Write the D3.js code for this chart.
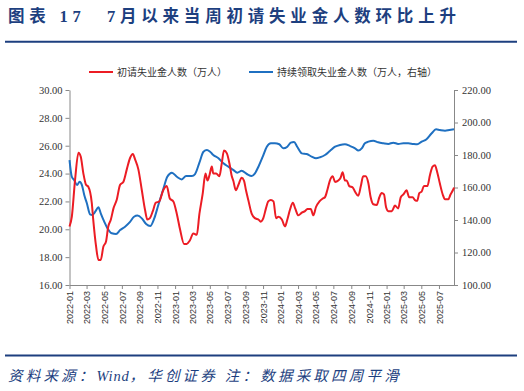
<!DOCTYPE html>
<html><head><meta charset="utf-8">
<script src="https://cdn.jsdelivr.net/npm/d3@7"></script>
<style>
body{margin:0;background:#fff;}
svg{display:block;}
</style></head>
<body><svg id="c" width="524" height="391"></svg>
<script>
const titleText = "图表 17　7月以来当周初请失业金人数环比上升";
const footerParts = ["资料来源：", "Wind", "，华创证券 注：数据采取四周平滑"];
const seriesNames = ["初请失业金人数（万人）", "持续领取失业金人数（万人，右轴）"];
const leftTicks = [16,18,20,22,24,26,28,30];
const rightTicks = [100,120,140,160,180,200,220];

const initialDates = ["2022-01-01","2022-01-09","2022-01-20","2022-02-01","2022-02-09","2022-02-18","2022-02-27","2022-03-07","2022-03-19","2022-03-24","2022-04-03","2022-04-11","2022-04-19","2022-04-28","2022-05-07","2022-05-15","2022-05-24","2022-06-02","2022-06-13","2022-06-25","2022-07-06","2022-07-18","2022-07-29","2022-08-08","2022-08-16","2022-08-27","2022-09-08","2022-09-19","2022-09-27","2022-10-06","2022-10-16","2022-10-26","2022-11-07","2022-11-21","2022-12-03","2022-12-14","2022-12-26","2023-01-07","2023-01-18","2023-02-01","2023-02-10","2023-02-21","2023-03-05","2023-03-17","2023-03-26","2023-04-06","2023-04-16","2023-04-23","2023-04-30","2023-05-08","2023-05-13","2023-05-23","2023-06-03","2023-06-11","2023-06-19","2023-06-29","2023-07-08","2023-07-16","2023-07-21","2023-07-30","2023-08-08","2023-08-19","2023-08-27","2023-09-03","2023-09-11","2023-09-23","2023-10-04","2023-10-16","2023-10-24","2023-11-02","2023-11-11","2023-11-19","2023-11-28","2023-12-07","2023-12-16","2023-12-24","2024-01-05","2024-01-16","2024-01-24","2024-02-02","2024-02-12","2024-02-20","2024-03-02","2024-03-14","2024-03-25","2024-04-02","2024-04-14","2024-04-23","2024-05-02","2024-05-14","2024-05-25","2024-06-02","2024-06-10","2024-06-19","2024-06-29","2024-07-07","2024-07-18","2024-07-26","2024-08-02","2024-08-10","2024-08-16","2024-08-25","2024-09-06","2024-09-14","2024-09-25","2024-10-04","2024-10-12","2024-10-21","2024-10-30","2024-11-07","2024-11-16","2024-11-28","2024-12-07","2024-12-15","2024-12-23","2024-12-30","2025-01-07","2025-01-19","2025-01-30","2025-02-10","2025-02-19","2025-02-28","2025-03-11","2025-03-20","2025-04-01","2025-04-09","2025-04-17","2025-04-24","2025-05-02","2025-05-10","2025-05-22","2025-05-31","2025-06-09","2025-06-17","2025-06-25","2025-07-04","2025-07-14","2025-07-22","2025-08-02","2025-08-10","2025-08-18","2025-08-22"];
const initialClaims = [20.2,20.9,23.5,25.5,25.2,24.0,23.2,23.05,21.9,20.7,18.75,17.8,17.8,18.75,19.1,20.2,20.7,21.5,22.1,23.2,23.4,24.3,25.1,25.4,25.0,24.3,22.8,21.4,20.7,20.8,21.3,21.9,22.0,22.8,23.1,22.2,22.0,21.1,20.0,18.95,18.95,19.2,19.7,19.6,21.1,22.5,24.0,23.5,23.9,24.5,24.0,24.0,23.8,24.7,25.65,25.45,24.7,23.8,23.5,22.8,23.2,23.7,23.5,22.8,22.1,21.1,20.8,20.7,20.55,20.8,21.5,22.0,22.1,22.0,20.8,20.9,20.7,20.2,20.7,21.4,21.9,21.5,21.0,21.2,21.3,21.45,21.45,21.0,21.6,22.0,22.2,22.3,22.8,23.5,23.8,23.4,23.5,23.7,24.1,23.5,23.5,23.1,23.0,22.7,22.4,23.1,23.8,23.8,23.3,22.3,21.8,21.75,22.3,22.6,22.5,21.6,21.3,21.3,21.7,21.5,22.3,22.5,22.8,22.3,22.3,22.1,22.05,22.6,22.7,23.1,23.1,23.9,24.5,24.6,24.1,23.3,22.5,22.15,22.15,22.5,22.8,23.0];

const continuingDates = ["2022-01-01","2022-01-09","2022-01-17","2022-01-27","2022-02-05","2022-02-13","2022-02-21","2022-03-02","2022-03-13","2022-03-21","2022-03-31","2022-04-11","2022-04-19","2022-05-01","2022-05-12","2022-05-27","2022-06-11","2022-06-25","2022-07-12","2022-07-30","2022-08-12","2022-08-24","2022-09-08","2022-09-23","2022-10-07","2022-10-21","2022-11-04","2022-11-22","2022-12-05","2022-12-21","2023-01-07","2023-01-24","2023-02-08","2023-02-28","2023-03-11","2023-03-26","2023-04-09","2023-04-21","2023-05-02","2023-05-13","2023-05-31","2023-06-17","2023-07-04","2023-07-21","2023-08-04","2023-08-19","2023-09-06","2023-09-23","2023-10-04","2023-10-16","2023-10-31","2023-11-14","2023-11-28","2023-12-12","2023-12-27","2024-01-10","2024-01-24","2024-02-05","2024-02-16","2024-02-27","2024-03-14","2024-03-31","2024-04-17","2024-05-02","2024-05-16","2024-06-02","2024-06-19","2024-07-07","2024-07-24","2024-08-10","2024-08-28","2024-09-14","2024-09-25","2024-10-07","2024-10-18","2024-10-30","2024-11-16","2024-12-03","2024-12-21","2025-01-07","2025-01-24","2025-02-10","2025-02-28","2025-03-17","2025-04-03","2025-04-17","2025-05-02","2025-05-19","2025-06-06","2025-06-21","2025-07-04","2025-07-22","2025-08-06","2025-08-22"];
const continuingClaims = [176.9,166.6,164.6,161.5,163.6,161.5,155.4,150.3,143.5,143.1,145.1,147.8,144.1,139.0,134.9,131.8,131.4,133.8,135.9,139.0,142.0,142.7,141.0,137.5,136.3,141.0,149.2,159.5,166.6,169.1,166.6,165.0,167.1,167.1,168.3,175.3,182.0,183.1,182.0,180.0,178.0,174.9,172.8,170.8,169.1,170.3,168.3,167.1,168.7,172.8,179.0,185.1,187.2,187.2,186.6,184.1,185.1,187.6,188.0,185.1,181.0,180.6,179.0,178.0,178.6,180.0,182.5,185.1,186.2,186.6,185.5,184.1,182.7,184.1,187.2,188.2,188.8,187.8,187.2,186.8,187.6,186.8,187.2,187.2,186.8,186.6,188.2,189.7,193.4,195.8,195.4,195.0,195.4,195.8];

const RED = "#ec1c24", BLUE = "#1f70c1", NAVY = "#1d3f7f";
const svg = d3.select("#c");
const parse = d3.timeParse("%Y-%m-%d");
const red = initialDates.map((d,i)=>({d:parse(d), v:initialClaims[i]}));
const blue = continuingDates.map((d,i)=>({d:parse(d), v:continuingClaims[i]}));

const L = 69.5, R = 454, T = 90, B = 285;
const x = d3.scaleTime().domain([parse("2022-01-01"), parse("2025-08-22")]).range([L, R]);
const yL = d3.scaleLinear().domain([16,30]).range([B, T]);
const yR = d3.scaleLinear().domain([100,220]).range([B, T]);

// Title
svg.append("text").attr("x",8).attr("y",22)
  .attr("font-family","'Liberation Serif', 'Noto Sans CJK SC', serif").attr("font-weight",700)
  .attr("font-size",16.5).attr("letter-spacing",4.8).attr("fill",NAVY).text(titleText);
svg.append("line").attr("x1",5).attr("x2",517).attr("y1",41.7).attr("y2",41.7)
  .attr("stroke",NAVY).attr("stroke-width",2);

// Footer
svg.append("line").attr("x1",5).attr("x2",517).attr("y1",355.5).attr("y2",355.5)
  .attr("stroke",NAVY).attr("stroke-width",2);
const ft = svg.append("text").attr("x",8).attr("y",380.5)
  .attr("font-family","'Liberation Serif', 'Noto Sans CJK SC', serif").attr("font-style","italic")
  .attr("font-size",14.5).attr("fill",NAVY);
ft.append("tspan").attr("letter-spacing",3.2).text(footerParts[0]);
ft.append("tspan").attr("letter-spacing",0.8).text(footerParts[1]);
ft.append("tspan").attr("letter-spacing",3.2).text(footerParts[2]);

// Legend
const lg = svg.append("g").attr("font-family","'Noto Sans CJK SC', sans-serif").attr("font-size",10).attr("fill","#333");
[[89,RED,seriesNames[0]],[249,BLUE,seriesNames[1]]].forEach(([lx,c,t])=>{
  lg.append("line").attr("x1",lx).attr("x2",lx+24).attr("y1",72).attr("y2",72).attr("stroke",c).attr("stroke-width",2);
  lg.append("text").attr("x",lx+28).attr("y",75.5).text(t);
});

// Axes
const axL = d3.axisLeft(yL).tickValues(leftTicks).tickFormat(d3.format(".2f")).tickSize(4).tickSizeOuter(0);
const axR = d3.axisRight(yR).tickValues(rightTicks).tickFormat(d3.format(".2f")).tickSize(4).tickSizeOuter(0);
const axB = d3.axisBottom(x).ticks(d3.timeMonth.every(2)).tickFormat(d3.timeFormat("%Y-%m")).tickSize(4).tickSizeOuter(0);

function style(g){
  g.select(".domain").attr("stroke","#888");
  g.selectAll(".tick line").attr("stroke","#888");
  g.selectAll(".tick text").attr("fill","#333");
}
svg.append("g").attr("transform",`translate(${L},0)`).call(axL).call(style)
  .selectAll(".tick text").attr("font-family","'Liberation Serif', serif").attr("font-size",10.5).attr("x",-7);
svg.append("g").attr("transform",`translate(${R},0)`).call(axR).call(style)
  .selectAll(".tick text").attr("font-family","'Liberation Serif', serif").attr("font-size",10.5).attr("x",8);
const gb = svg.append("g").attr("transform",`translate(0,${B})`).call(axB).call(style);
gb.selectAll(".tick text").attr("font-family","'Liberation Sans', Arial, sans-serif").attr("font-size",9)
  .attr("transform","rotate(-90)").attr("text-anchor","end").attr("x",-6).attr("y",0).attr("dy","0.35em");

// Lines
const lineL = d3.line().x(d=>x(d.d)).y(d=>yL(d.v)).curve(d3.curveMonotoneX);
const lineR = d3.line().x(d=>x(d.d)).y(d=>yR(d.v)).curve(d3.curveMonotoneX);
svg.append("path").datum(blue).attr("d",lineR).attr("fill","none").attr("stroke",BLUE).attr("stroke-width",2);
svg.append("path").datum(red).attr("d",lineL).attr("fill","none").attr("stroke",RED).attr("stroke-width",2);
</script></body></html>
